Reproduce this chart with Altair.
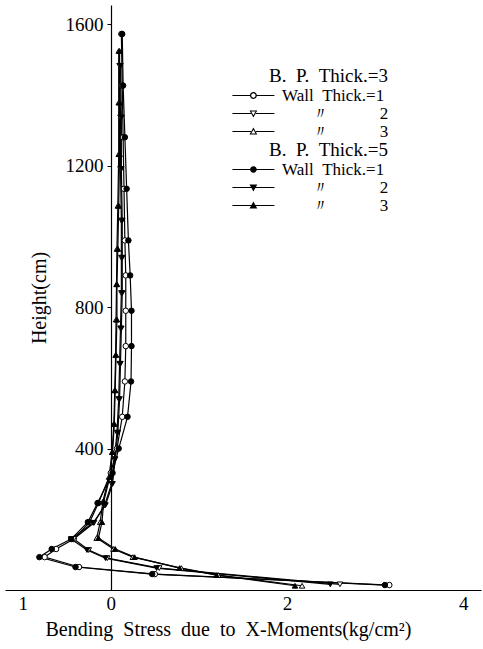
import altair as alt
import pandas as pd

NB = "\u00a0"
ZW = "\u200b"
FONT = "Liberation Serif"

# Heights (cm) of the nodes, top to bottom, per wall thickness
h_w1 = [1573, 1427, 1281, 1135, 989, 890, 790, 690, 590, 490, 400, 331, 246, 192, 144, 116, 93, 65, 45, 14]
h_w2 = [1483, 1337, 1191, 1045, 940, 840, 740, 640, 540, 445, 370, 300, 240, 190, 144, 113, 90, 62, 16]
h_w3 = [1525, 1379, 1233, 1087, 965, 865, 765, 665, 565, 470, 390, 320, 250, 192, 147, 116, 93, 62, 42, 12]

# Bending stress (kg/cm2)
bp3_w1 = [0.12, 0.13, 0.14, 0.15, 0.16, 0.17, 0.17, 0.17, 0.16, 0.13, 0.07, 0.0, -0.14, -0.24, -0.42, -0.62, -0.75, -0.36, 0.50, 3.16]
bp3_w2 = [0.10, 0.11, 0.11, 0.12, 0.12, 0.12, 0.11, 0.10, 0.09, 0.07, 0.04, 0.01, -0.07, -0.19, -0.42, -0.25, -0.04, 0.55, 2.60]
bp3_w3 = [0.09, 0.09, 0.09, 0.08, 0.07, 0.065, 0.06, 0.055, 0.045, 0.035, 0.015, -0.02, -0.09, -0.12, -0.16, 0.03, 0.25, 0.80, 1.22, 2.17]
bp5_w1 = [0.13, 0.14, 0.16, 0.18, 0.20, 0.22, 0.235, 0.235, 0.23, 0.19, 0.09, 0.02, -0.15, -0.26, -0.45, -0.67, -0.81, -0.40, 0.47, 3.11]
bp5_w2 = [0.11, 0.12, 0.12, 0.13, 0.13, 0.13, 0.12, 0.11, 0.10, 0.08, 0.05, 0.02, -0.06, -0.20, -0.45, -0.27, -0.06, 0.52, 2.49]
bp5_w3 = [0.10, 0.10, 0.10, 0.09, 0.08, 0.07, 0.07, 0.06, 0.05, 0.04, 0.02, -0.01, -0.08, -0.10, -0.14, 0.05, 0.27, 0.78, 1.20, 2.09]

series = [
    ("3", "1", h_w1, bp3_w1),
    ("3", "2", h_w2, bp3_w2),
    ("3", "3", h_w3, bp3_w3),
    ("5", "1", h_w1, bp5_w1),
    ("5", "2", h_w2, bp5_w2),
    ("5", "3", h_w3, bp5_w3),
]
rows = []
for bp, wall, hs, xs in series:
    for h, x in zip(hs, xs):
        rows.append({"series": f"bp{bp}_w{wall}", "bp": bp, "wall": wall, "h": h, "x": x})
df = pd.DataFrame(rows)

X = alt.X("x:Q", scale=alt.Scale(domain=[-1.2, 4.2], nice=False, zero=False),
          axis=alt.Axis(values=[-1, 0, 2, 4],
                        labelExpr="datum.value == -1 ? '1' : datum.label",
                        title=f"Bending{NB}{NB}Stress{NB}{NB}due{NB}{NB}to{NB}{NB}X-Moments(kg/cm²)",
                        grid=False, ticks=False, labelPadding=4, titlePadding=6, titleX=223,
                        labelFontSize=19, titleFontSize=20))
Y = alt.Y("h:Q", scale=alt.Scale(domain=[0, 1655], nice=False),
          axis=alt.Axis(values=[400, 800, 1200, 1600], format="d", offset=-106, grid=False,
                        tickSize=4, labelPadding=4, titlePadding=16,
                        title="Height(cm)", labelFontSize=19, titleFontSize=20))

lines = alt.Chart(df).mark_line(color="black", strokeWidth=1.2).encode(
    x=X, y=Y, detail="series:N", order="h:Q")

points = alt.Chart(df).mark_point(filled=True, size=30, stroke="black", strokeWidth=1, opacity=1).encode(
    x=X, y=Y,
    shape=alt.Shape("wall:N", scale=alt.Scale(domain=["1", "2", "3"],
                                              range=["circle", "triangle-down", "triangle-up"]), legend=None),
    fill=alt.Fill("bp:N", scale=alt.Scale(domain=["3", "5"], range=["white", "black"]), legend=None))


# Legend glyphs: filled outlines (line + marker), unit = 3 px
def f(v):
    return f"{v:.3f}".rstrip("0").rstrip(".")


DX = 2.3
T = 0.2


def bars(gap):
    return (f"M{f(-7+DX)},{f(-T)}L{f(-gap+DX)},{f(-T)}L{f(-gap+DX)},{f(T)}L{f(-7+DX)},{f(T)}Z"
            f"M{f(gap+DX)},{f(-T)}L{f(7+DX)},{f(-T)}L{f(7+DX)},{f(T)}L{f(gap+DX)},{f(T)}Z")


def circle(r, sweep):
    return (f"M{f(-r+DX)},0A{f(r)},{f(r)},0,1,{sweep},{f(r+DX)},0"
            f"A{f(r)},{f(r)},0,1,{sweep},{f(-r+DX)},0Z")


def tri(pts):
    (a, b), (c, d), (e, g) = pts
    return f"M{f(a+DX)},{f(b)}L{f(c+DX)},{f(d)}L{f(e+DX)},{f(g)}Z"


open_c = bars(1.0) + circle(1.15, 1) + circle(0.72, 0)
open_td = bars(0.8) + tri([(-1.3, -1.0), (1.3, -1.0), (0, 1.3)]) + tri([(-0.72, -0.66), (0, 0.6), (0.72, -0.66)])
open_tu = bars(0.8) + tri([(-1.3, 1.0), (0, -1.3), (1.3, 1.0)]) + tri([(-0.72, 0.66), (0.72, 0.66), (0, -0.6)])
fill_c = bars(0.5) + circle(1.1, 1)
fill_td = bars(0.5) + tri([(-1.3, -1.0), (1.3, -1.0), (0, 1.3)])
fill_tu = bars(0.5) + tri([(-1.3, 1.0), (0, -1.3), (1.3, 1.0)])

label_expr = ("datum.value == '1' ? 'Wall" + NB + NB + "Thick.=1' : '" + ZW + NB * 7 + "〃" + NB * 12 + "' + datum.value")


def legend_layer(bp, title, shapes, y):
    return alt.Chart(df[df.bp == bp]).mark_point(
        filled=True, opacity=0, color="black"
    ).encode(
        x=X, y=Y,
        shape=alt.Shape("wall:N", scale=alt.Scale(domain=["1", "2", "3"], range=shapes),
                        legend=alt.Legend(title=title, orient="none", legendX=233, legendY=y,
                                          symbolSize=36, symbolOpacity=1, symbolFillColor="black",
                                          symbolStrokeWidth=0,
                                          labelExpr=label_expr, labelOffset=27, titleAnchor="end",
                                          rowPadding=0, titlePadding=1, padding=0,
                                          labelFontSize=17, titleFontSize=19,
                                          titleFontWeight="normal", labelFont=FONT, titleFont=FONT,
                                          labelColor="black", titleColor="black")))


leg3 = legend_layer("3", f"B.{NB}{NB}P.{NB}{NB}Thick.=3", [open_c, open_td, open_tu], 62)
leg5 = legend_layer("5", f"B.{NB}{NB}P.{NB}{NB}Thick.=5", [fill_c, fill_td, fill_tu], 136)

chart = alt.layer(lines, points, leg3, leg5).resolve_scale(shape="independent", fill="independent").properties(
    width=476, height=585, padding={"left": 5, "right": 2, "top": 5, "bottom": 5}, background="white"
).configure_axis(
    domainColor="black", domainWidth=1.2, tickColor="black", labelColor="black", titleColor="black",
    labelFont=FONT, titleFont=FONT, titleFontWeight="normal"
).configure_view(strokeWidth=0)

chart.save("out.html", embed_options={"renderer": "svg", "actions": False})
